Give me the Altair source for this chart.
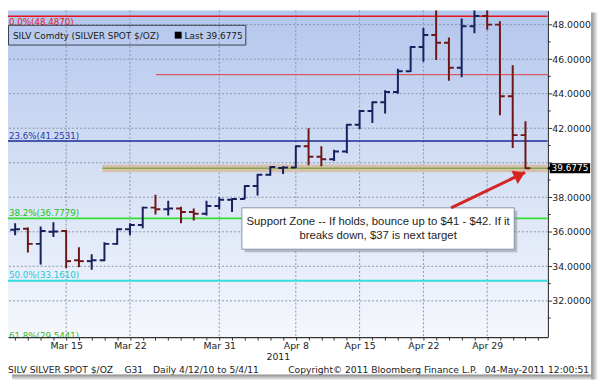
import math
import altair as alt
import pandas as pd

# ---------------- data ----------------
dates = ["2011-03-08", "2011-03-09", "2011-03-10", "2011-03-11", "2011-03-14",
         "2011-03-15", "2011-03-16", "2011-03-17", "2011-03-18", "2011-03-21",
         "2011-03-22", "2011-03-23", "2011-03-24", "2011-03-25", "2011-03-28",
         "2011-03-29", "2011-03-30", "2011-03-31", "2011-04-01", "2011-04-04",
         "2011-04-05", "2011-04-06", "2011-04-07", "2011-04-08", "2011-04-11",
         "2011-04-12", "2011-04-13", "2011-04-14", "2011-04-15", "2011-04-18",
         "2011-04-19", "2011-04-20", "2011-04-21", "2011-04-22", "2011-04-25",
         "2011-04-26", "2011-04-27", "2011-04-28", "2011-04-29", "2011-05-02",
         "2011-05-03", "2011-05-04"]
opens = [36.10, 36.12, 36.17, 35.30, 36.00, 36.05, 34.35, 34.30, 34.35, 35.30,
         36.15, 36.40, 37.40, 37.30, 37.35, 37.15, 37.05, 37.50, 37.85, 37.90,
         38.65, 39.30, 39.70, 39.72, 40.95, 40.35, 40.20, 40.65, 42.20, 43.00,
         43.50, 44.10, 45.30, 46.70, 47.40, 46.95, 45.50, 47.90, 48.50, 48.00,
         43.85, 41.60]
highs = [36.50, 36.50, 36.25, 36.30, 36.55, 36.10, 35.10, 34.70, 35.40, 36.20,
         36.50, 37.45, 38.15, 37.80, 37.45, 37.35, 37.80, 38.00, 37.95, 38.70,
         39.35, 39.80, 39.80, 41.00, 42.00, 40.95, 40.75, 42.25, 43.05, 43.55,
         44.20, 45.45, 46.75, 47.80, 49.80, 47.25, 48.35, 49.60, 49.25, 48.20,
         45.65, 42.40]
lows = [35.80, 35.80, 34.80, 34.10, 35.70, 33.90, 33.95, 33.80, 34.30, 35.25,
        35.80, 36.20, 37.00, 36.95, 36.50, 36.65, 36.95, 37.30, 37.15, 37.90,
        38.10, 39.25, 39.35, 39.70, 39.85, 39.80, 40.10, 40.55, 41.95, 42.30,
        42.85, 44.00, 45.25, 45.85, 45.95, 44.75, 44.95, 47.50, 47.70, 42.75,
        40.85, 39.65]
closes = [36.15, 36.15, 35.30, 36.05, 36.02, 34.30, 34.30, 34.35, 35.30, 36.15,
          36.40, 37.40, 37.30, 37.35, 37.15, 37.05, 37.50, 37.85, 37.90, 38.65,
          39.30, 39.75, 39.72, 40.95, 40.35, 40.20, 40.65, 42.20, 43.00, 43.50,
          44.10, 45.30, 46.70, 47.40, 46.95, 45.50, 47.90, 48.50, 48.00, 43.85,
          41.60, 39.6775]

tick_dates = ["2011-03-15", "2011-03-22", "2011-03-31", "2011-04-08",
              "2011-04-15", "2011-04-22", "2011-04-29"]
tick_labels = ["Mar 15", "Mar 22", "Mar 31", "Apr 8", "Apr 15", "Apr 22", "Apr 29"]
year_label = "2011"

y_ticks = [32, 34, 36, 38, 40, 42, 44, 46, 48]
y_minor = [31, 33, 35, 37, 39, 41, 43, 45, 47]

fib_pct = ["0.0%", "23.6%", "38.2%", "50.0%", "61.8%"]
fib_val = [48.4870, 41.2531, 36.7779, 33.1610, 29.5441]

resist_level = 45.1
resist_start = "2011-03-24"
support_low = 39.45
support_high = 39.90
support_start = 7.85          # trading-day index where the zone starts

note_lines = ["Support Zone -- If holds, bounce up to $41 - $42. If it",
              "breaks down, $37 is next target"]
note_box_x = [18.77, 40.12]   # trading-day index
note_box_y = [34.99, 37.39]   # price
note_line_y = [36.55, 35.75]
note_center_x = 29.45
arrow_tail = [35.17, 37.39]
arrow_tip = [40.97, 39.446]

ticker = "SILV Comdty"
sec_name = "SILVER SPOT $/OZ"
footer_texts = ["SILV  SILVER SPOT $/OZ", "G31", "Daily  4/12/10 to 5/4/11",
                "Copyright\u00a9 2011 Bloomberg Finance L.P.", "04-May-2011 12:00:51"]

# ---------------- geometry ----------------
W, H = 547, 331
x_dom = [0.441, 42.745]
y_dom = [29.9, 48.817]
ppx = W / (x_dom[1] - x_dom[0])
ppy = H / (y_dom[1] - y_dom[0])

FONT = "DejaVu Sans"
UP, DOWN = "#16205c", "#6e1616"
xs = alt.Scale(domain=x_dom, nice=False, zero=False)
ys = alt.Scale(domain=y_dom, nice=False, zero=False)

tick_idx = [dates.index(d) for d in tick_dates]
label_expr = " : ".join(f"datum.value == {i} ? '{t}'" for i, t in zip(tick_idx, tick_labels)) + " : ''"
last_round = round(closes[-1])
y_label_expr = f"datum.value == {last_round} ? '' : format(datum.value, '.4f')"

X_AXIS = alt.Axis(
    orient="bottom", values=list(range(1, 43)), labelExpr=label_expr,
    tickSize=3, labelPadding=1, labelFont=FONT, labelFontSize=9.5, labelColor="#222",
    tickColor="#333", domainColor="#333", domainWidth=1.5, grid=False,
    labelOverlap=False, labelFlush=False,
    title=year_label, titleFont=FONT, titleFontSize=9.5, titleFontWeight="normal",
    titleColor="#222", titlePadding=1)
Y_AXIS = alt.Axis(
    orient="right", values=y_ticks, labelExpr=y_label_expr, tickSize=4, labelPadding=0,
    labelFont=FONT, labelFontSize=9.5, labelColor="#222", tickColor="#333",
    domainColor="#333", domainWidth=1.5, grid=False, title="", labelOverlap=False)


def X(f, **kw):
    return alt.X(f, type="quantitative", scale=xs, axis=X_AXIS, **kw)


def Y(f, **kw):
    return alt.Y(f, type="quantitative", scale=ys, axis=Y_AXIS, **kw)


one = pd.DataFrame({"k": [0]})

idx = list(range(len(dates)))
bars = pd.DataFrame({"i": idx, "o": opens, "h": highs, "l": lows, "c": closes})
bars["dir"] = ["up" if c >= o else "down" for o, c in zip(opens, closes)]
bars["xo"] = bars["i"] - 0.38
bars["xc"] = bars["i"] + 0.38
color_enc = alt.Color("dir:N", scale=alt.Scale(domain=["up", "down"], range=[UP, DOWN]),
                      legend=None)

layers = []

# background (plot area gradient)
bg_df = pd.DataFrame({"x": [x_dom[0]], "x2": [x_dom[1]], "y": [y_dom[0]], "y2": [y_dom[1]]})
grad = alt.Gradient(gradient="linear",
                    stops=[alt.GradientStop(color="#b3c6ed", offset=0),
                           alt.GradientStop(color="#d9e3f6", offset=0.55),
                           alt.GradientStop(color="#f5f7fc", offset=1)],
                    x1=0, x2=0, y1=0, y2=1)
layers.append(alt.Chart(bg_df).mark_rect(color=grad).encode(
    x=X("x"), x2="x2", y=Y("y"), y2="y2"))

# grid
layers.append(alt.Chart(pd.DataFrame({"y": y_ticks})).mark_rule(
    color="#8a93a8", strokeDash=[2, 2], strokeWidth=1).encode(y=Y("y")))
layers.append(alt.Chart(pd.DataFrame({"x": tick_idx})).mark_rule(
    color="#8a93a8", strokeDash=[2, 2], strokeWidth=1).encode(x=X("x")))

# support zone
sz = pd.DataFrame({"x": [support_start], "x2": [x_dom[1]], "y": [support_low],
                   "y2": [support_high], "last": [closes[-1]]})
layers.append(alt.Chart(sz).mark_rect(color="#d6bea6", opacity=0.9).encode(
    x=X("x"), x2="x2", y=Y("y"), y2="y2"))
layers.append(alt.Chart(sz).mark_rule(color="#8aa64a", strokeWidth=1.5).encode(
    x=X("x"), x2="x2", y=Y("last")))

# resistance line
rs = pd.DataFrame({"x": [dates.index(resist_start) + 0.04], "x2": [x_dom[1]], "y": [resist_level]})
layers.append(alt.Chart(rs).mark_rule(color="#e23a3a", strokeWidth=1).encode(
    x=X("x"), x2="x2", y=Y("y")))

# fib lines
fib_line_col = ["#e8141e", "#1c2a96", "#33dd33", "#36dede", "#33cc33"]
fib_text_col = ["#e02020", "#2838a8", "#22c022", "#22c8d8", "#33bb33"]
fib_w = [1.6, 1.5, 2, 2, 2]
n_fib = len(fib_pct)
for k, (p, v, lc, tc, w) in enumerate(zip(fib_pct, fib_val, fib_line_col, fib_text_col, fib_w)):
    d = pd.DataFrame({"y": [v], "t": [f"{p}({v:.4f})"]})
    layers.append(alt.Chart(d).mark_rule(color=lc, strokeWidth=w, clip=True).encode(y=Y("y")))
    if k == 0:
        bl, dy = "top", 1.5
    elif k == n_fib - 1:
        bl, dy = "bottom", -2.5
    else:
        bl, dy = "bottom", -0.5
    layers.append(alt.Chart(d).mark_text(font=FONT, fontSize=8.8, color=tc, align="left",
                                         baseline=bl, dy=dy, clip=True).encode(
        x=alt.value(1), y=Y("y"), text="t:N"))

# OHLC bars
bc = alt.Chart(bars)
layers.append(bc.mark_rule(strokeWidth=2, clip=True).encode(
    x=X("i"), y=Y("l"), y2="h", color=color_enc))
layers.append(bc.mark_rule(strokeWidth=2, clip=True).encode(
    x=X("xo"), x2="i", y=Y("o"), color=color_enc))
layers.append(bc.mark_rule(strokeWidth=2, clip=True).encode(
    x=X("i"), x2="xc", y=Y("c"), color=color_enc))

# legend box (chart chrome)
layers.append(alt.Chart(one).mark_rect(fillOpacity=0, stroke="#3a3f4a", strokeWidth=1).encode(
    x=alt.value(0.5), x2=alt.value(241), y=alt.value(15), y2=alt.value(35)))
layers.append(alt.Chart(one).mark_text(font=FONT, fontSize=9, color="#1a1a1a", align="left",
                                       baseline="middle", text=f"{ticker} ({sec_name})").encode(
    x=alt.value(5), y=alt.value(25.5)))
layers.append(alt.Chart(one).mark_square(color="#000", opacity=1, size=49).encode(
    x=alt.value(172.5), y=alt.value(25)))
layers.append(alt.Chart(one).mark_text(font=FONT, fontSize=9, color="#1a1a1a", align="left",
                                       baseline="middle", text=f"Last {closes[-1]:.4f}").encode(
    x=alt.value(179), y=alt.value(25.5)))

# annotation
nb = pd.DataFrame({"x": [note_box_x[0]], "x2": [note_box_x[1]], "y": [note_box_y[0]], "y2": [note_box_y[1]]})
layers.append(alt.Chart(nb).mark_rect(color="#7d7d7d", opacity=0.45, xOffset=3, x2Offset=3,
                                      yOffset=3, y2Offset=3).encode(
    x=X("x"), x2="x2", y=Y("y"), y2="y2"))
layers.append(alt.Chart(nb).mark_rect(fill="white", stroke="#8593a8", strokeWidth=1).encode(
    x=X("x"), x2="x2", y=Y("y"), y2="y2"))
nt = pd.DataFrame({"x": [note_center_x] * 2, "y": note_line_y, "t": note_lines})
layers.append(alt.Chart(nt).mark_text(font="Liberation Sans", fontSize=11.5, color="#1e1e1e",
                                      align="center", baseline="middle").encode(
    x=X("x"), y=Y("y"), text="t:N"))

# arrow
ar = pd.DataFrame({"x": [arrow_tail[0]], "y": [arrow_tail[1]],
                   "x2": [arrow_tip[0]], "y2": [arrow_tip[1]]})
ang = math.degrees(math.atan2((arrow_tip[0] - arrow_tail[0]) * ppx,
                              (arrow_tip[1] - arrow_tail[1]) * ppy))
layers.append(alt.Chart(ar).mark_rule(color="#d42424", strokeWidth=3).encode(
    x=X("x"), y=Y("y"), x2="x2", y2="y2"))
layers.append(alt.Chart(ar).mark_point(shape="M0,0L-0.62,1L0.62,1Z", filled=True, opacity=1,
                                       color="#d42424", size=560, angle=ang).encode(
    x=X("x2"), y=Y("y2")))

# last price tag on the axis
tg = pd.DataFrame({"y": [closes[-1] + 0.29], "y2": [closes[-1] - 0.29], "m": [closes[-1]],
                   "t": [f"{closes[-1]:.4f}"]})
layers.append(alt.Chart(tg).mark_point(shape="triangle-left", filled=True, opacity=1,
                                       color="#000", size=45).encode(
    x=alt.value(549), y=Y("m")))
layers.append(alt.Chart(tg).mark_rect(color="#000").encode(
    x=alt.value(549), x2=alt.value(590), y=Y("y"), y2="y2"))
layers.append(alt.Chart(tg).mark_text(font=FONT, fontSize=9, color="white", align="center",
                                      baseline="middle").encode(
    x=alt.value(569.5), y=Y("m"), text="t:N"))

# minor ticks on right axis
layers.append(alt.Chart(pd.DataFrame({"y": y_minor})).mark_rule(color="#333", strokeWidth=1).encode(
    x=alt.value(547), x2=alt.value(550), y=Y("y")))

# footer
foot_x = [0, 118, 147, 284, 589]
foot_align = ["left", "left", "left", "left", "right"]
for t, fx, al in zip(footer_texts, foot_x, foot_align):
    layers.append(alt.Chart(one).mark_text(font=FONT, fontSize=9.3, color="#1a1a1a", align=al,
                                           baseline="middle", text=t).encode(
        x=alt.value(fx), y=alt.value(364)))

# window shadows
sh_r = alt.Gradient(gradient="linear",
                    stops=[alt.GradientStop(color="#8c8c8c", offset=0),
                           alt.GradientStop(color="#ffffff", offset=1)],
                    x1=0, x2=1, y1=0, y2=0)
sh_b = alt.Gradient(gradient="linear",
                    stops=[alt.GradientStop(color="#8c8c8c", offset=0),
                           alt.GradientStop(color="#ffffff", offset=1)],
                    x1=0, x2=0, y1=0, y2=1)
layers.append(alt.Chart(one).mark_rect(color=sh_r).encode(
    x=alt.value(591), x2=alt.value(598), y=alt.value(2), y2=alt.value(374)))
layers.append(alt.Chart(one).mark_rect(color=sh_b).encode(
    x=alt.value(4), x2=alt.value(591), y=alt.value(369), y2=alt.value(375)))

chart = alt.layer(*layers).properties(
    width=W, height=H,
    padding={"left": 0, "top": 0, "right": 55, "bottom": 47},
    autosize=alt.AutoSizeParams(type="none"),
    background="white",
).configure_view(strokeWidth=0)

chart.save("out.html", embed_options={"renderer": "svg", "actions": False})
